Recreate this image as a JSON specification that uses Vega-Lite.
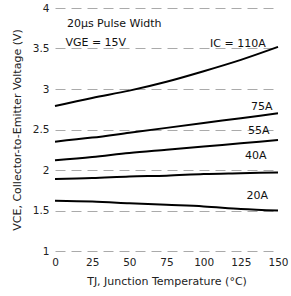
{
  "$schema": "https://vega.github.io/schema/vega-lite/v6.json",
  "autosize": "none",
  "width": 223,
  "height": 243,
  "padding": {"left": 55, "top": 8, "right": 13, "bottom": 45},
  "background": "white",
  "config": {
    "view": {"stroke": null},
    "font": "DejaVu Sans",
    "axis": {"labelFont": "DejaVu Sans", "titleFont": "DejaVu Sans", "labelColor": "#222", "titleColor": "#222", "titleFontWeight": "normal", "labelFontSize": 10.5, "titleFontSize": 11}
  },
  "datasets": {
    "curves": [
      {"T": 0, "V": 2.79, "Ic": "110A"}, {"T": 25, "V": 2.89, "Ic": "110A"}, {"T": 50, "V": 2.98, "Ic": "110A"}, {"T": 75, "V": 3.09, "Ic": "110A"}, {"T": 100, "V": 3.22, "Ic": "110A"}, {"T": 125, "V": 3.36, "Ic": "110A"}, {"T": 150, "V": 3.52, "Ic": "110A"},
      {"T": 0, "V": 2.35, "Ic": "75A"}, {"T": 25, "V": 2.40, "Ic": "75A"}, {"T": 50, "V": 2.46, "Ic": "75A"}, {"T": 75, "V": 2.52, "Ic": "75A"}, {"T": 100, "V": 2.58, "Ic": "75A"}, {"T": 125, "V": 2.64, "Ic": "75A"}, {"T": 150, "V": 2.70, "Ic": "75A"},
      {"T": 0, "V": 2.12, "Ic": "55A"}, {"T": 25, "V": 2.16, "Ic": "55A"}, {"T": 50, "V": 2.21, "Ic": "55A"}, {"T": 75, "V": 2.25, "Ic": "55A"}, {"T": 100, "V": 2.29, "Ic": "55A"}, {"T": 125, "V": 2.33, "Ic": "55A"}, {"T": 150, "V": 2.37, "Ic": "55A"},
      {"T": 0, "V": 1.89, "Ic": "40A"}, {"T": 25, "V": 1.90, "Ic": "40A"}, {"T": 50, "V": 1.92, "Ic": "40A"}, {"T": 75, "V": 1.93, "Ic": "40A"}, {"T": 100, "V": 1.95, "Ic": "40A"}, {"T": 125, "V": 1.96, "Ic": "40A"}, {"T": 150, "V": 1.97, "Ic": "40A"},
      {"T": 0, "V": 1.62, "Ic": "20A"}, {"T": 25, "V": 1.61, "Ic": "20A"}, {"T": 50, "V": 1.59, "Ic": "20A"}, {"T": 75, "V": 1.57, "Ic": "20A"}, {"T": 100, "V": 1.55, "Ic": "20A"}, {"T": 125, "V": 1.52, "Ic": "20A"}, {"T": 150, "V": 1.50, "Ic": "20A"}
    ],
    "labels": [
      {"T": 123, "V": 3.55, "text": "IC = 110A"},
      {"T": 139, "V": 2.78, "text": "75A"},
      {"T": 137, "V": 2.48, "text": "55A"},
      {"T": 135, "V": 2.17, "text": "40A"},
      {"T": 136, "V": 1.68, "text": "20A"}
    ],
    "notes": [
      {"T": 8, "V": 3.8, "text": "20µs Pulse Width"},
      {"T": 7, "V": 3.57, "text": "VGE = 15V"}
    ]
  },
  "encoding": {
    "x": {"field": "T", "type": "quantitative", "scale": {"domain": [0, 150], "nice": false},
      "axis": {"values": [0, 25, 50, 75, 100, 125, 150], "tickCount": 7, "labelOverlap": false, "labelFlush": false, "labelBound": false, "title": "TJ, Junction Temperature (°C)", "grid": false, "domain": false, "ticks": false, "labelPadding": 6, "titlePadding": 8}},
    "y": {"field": "V", "type": "quantitative", "scale": {"domain": [1, 4], "nice": false, "zero": false},
      "axis": {"values": [1, 1.5, 2, 2.5, 3, 3.5, 4], "format": "~g", "title": "VCE, Collector-to-Emitter Voltage (V)", "grid": true, "gridDash": [10, 6], "gridColor": "#aaa", "gridWidth": 1, "domain": false, "ticks": false, "labelPadding": 6, "titlePadding": 10}}
  },
  "layer": [
    {
      "data": {"name": "curves"},
      "mark": {"type": "line", "color": "black", "strokeWidth": 2, "interpolate": "monotone"},
      "encoding": {"detail": {"field": "Ic"}}
    },
    {
      "data": {"name": "labels"},
      "mark": {"type": "text", "fontSize": 11, "color": "#111", "align": "center"},
      "encoding": {"text": {"field": "text"}}
    },
    {
      "data": {"name": "notes"},
      "mark": {"type": "text", "fontSize": 11, "color": "#111", "align": "left"},
      "encoding": {"text": {"field": "text"}}
    }
  ]
}
